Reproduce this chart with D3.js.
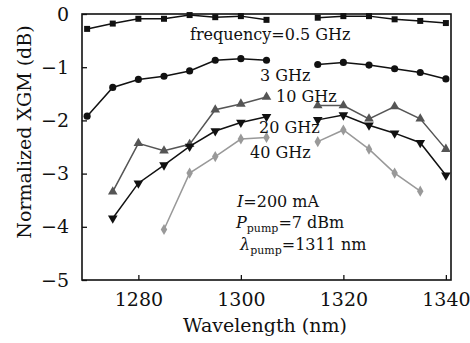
<!DOCTYPE html>
<html lang="en">
<head>
    <meta charset="UTF-8">
    <title>Normalized XGM</title>
    <script src="https://cdnjs.cloudflare.com/ajax/libs/d3/7.8.5/d3.min.js"></script>
    <style>
        body { margin: 0; background: #fff; }
        text { font-family: "DejaVu Serif", serif; }
    </style>
</head>
<body>
    <div id="chart"></div>
    <script>
        // data
        const wlLeft = [1270, 1275, 1280, 1285, 1290, 1295, 1300, 1305]
        const wlRight = [1315, 1320, 1325, 1330, 1335, 1340]

        const f05Left = [-0.28, -0.18, -0.09, -0.09, -0.02, -0.06, -0.04, -0.11]
        const f05Right = [-0.07, -0.04, -0.04, -0.10, -0.13, -0.17]
        const f3Left = [-1.92, -1.38, -1.23, -1.17, -1.07, -0.87, -0.84, -0.87]
        const f3Right = [-0.95, -0.91, -0.96, -1.03, -1.10, -1.22]
        // 10, 20 GHz start at 1275, 40 GHz at 1285
        const f10Left = [-3.34, -2.43, -2.57, -2.45, -1.80, -1.69, -1.56]
        const f10Right = [-1.72, -1.72, -1.97, -1.74, -1.97, -2.54]
        const f20Left = [-3.84, -3.18, -2.84, -2.49, -2.20, -2.04, -1.93]
        const f20Right = [-1.99, -1.90, -2.09, -2.24, -2.42, -3.03]
        const f40Left = [-4.05, -2.99, -2.68, -2.35, -2.32]
        const f40Right = [-2.40, -2.18, -2.54, -2.99, -3.33]

        const xTicks = [1280, 1300, 1320, 1340]
        const yTicks = [0, -1, -2, -3, -4, -5]

        const width = 470, height = 343
        const margin = { top: 14, right: 19, bottom: 63, left: 82 }

        const svg = d3.select('#chart').append('svg')
            .attr('width', width)
            .attr('height', height)

        const x = d3.scaleLinear().domain([1269, 1341]).range([margin.left, width - margin.right])
        const y = d3.scaleLinear().domain([-5, 0]).range([height - margin.bottom, margin.top])

        // frame
        svg.append('rect')
            .attr('x', x.range()[0]).attr('y', y.range()[1])
            .attr('width', x.range()[1] - x.range()[0])
            .attr('height', y.range()[0] - y.range()[1])
            .attr('fill', 'none').attr('stroke', '#111').attr('stroke-width', 1.6)

        // x axis (ticks inward)
        const xAxis = svg.append('g').attr('transform', `translate(0,${y(-5)})`)
        xAxis.call(d3.axisBottom(x).tickValues(d3.range(1270, 1341, 5)).tickSize(-3).tickFormat(''))
        xAxis.call(d3.axisBottom(x).tickValues(xTicks).tickSize(-5).tickPadding(13).tickFormat(d3.format('d')))
        xAxis.selectAll('.domain').remove()
        xAxis.selectAll('line').attr('stroke', '#111').attr('stroke-width', 1.3)
        xAxis.selectAll('text').attr('font-size', 19).attr('fill', '#111')

        // y axis
        const yAxis = svg.append('g').attr('transform', `translate(${x(1269)},0)`)
        yAxis.call(d3.axisLeft(y).tickValues(d3.range(-5, 0.01, 0.25)).tickSize(-3).tickFormat(''))
        yAxis.call(d3.axisLeft(y).tickValues(yTicks).tickSize(-5).tickPadding(13)
            .tickFormat(d => d === 0 ? '0' : '\u2212' + Math.abs(d)))
        yAxis.selectAll('.domain').remove()
        yAxis.selectAll('line').attr('stroke', '#111').attr('stroke-width', 1.3)
        yAxis.selectAll('text').attr('font-size', 19).attr('fill', '#111')

        // axis titles
        svg.append('text')
            .attr('x', 265).attr('y', 332)
            .attr('text-anchor', 'middle').attr('font-size', 19).attr('fill', '#111')
            .text('Wavelength (nm)')
        svg.append('text')
            .attr('transform', 'translate(31,132) rotate(-90)')
            .attr('text-anchor', 'middle').attr('font-size', 19).attr('fill', '#111')
            .text('Normalized XGM (dB)')

        // series
        function pts(xs, ys) {
            return ys.map((v, i) => [xs[i], v])
        }
        const series = [
            { name: '0.5', color: '#111', shape: d3.symbolSquare, size: 36,
              parts: [pts(wlLeft, f05Left), pts(wlRight, f05Right)] },
            { name: '3', color: '#111', shape: d3.symbolCircle, size: 40,
              parts: [pts(wlLeft, f3Left), pts(wlRight, f3Right)] },
            { name: '10', color: '#555', shape: d3.symbolTriangle, size: 40,
              parts: [pts(wlLeft.slice(1), f10Left), pts(wlRight, f10Right)] },
            { name: '20', color: '#111', shape: d3.symbolTriangle, size: 40, flip: true,
              parts: [pts(wlLeft.slice(1), f20Left), pts(wlRight, f20Right)] },
            { name: '40', color: '#999', shape: d3.symbolDiamond, size: 36,
              parts: [pts(wlLeft.slice(3), f40Left), pts(wlRight.slice(0, 5), f40Right)] }
        ]

        const line = d3.line().x(d => x(d[0])).y(d => y(d[1]))

        series.forEach(s => {
            const g = svg.append('g')
            s.parts.forEach(p => {
                g.append('path')
                    .attr('d', line(p))
                    .attr('fill', 'none')
                    .attr('stroke', s.color)
                    .attr('stroke-width', 1.5)
                g.selectAll(null)
                    .data(p)
                    .enter()
                    .append('path')
                    .attr('d', d3.symbol().type(s.shape).size(s.size))
                    .attr('transform', d => `translate(${x(d[0])},${y(d[1])})${s.flip ? ' rotate(180)' : ''}`)
                    .attr('fill', s.color)
            })
        })

        // labels
        const labels = [
            { t: 'frequency=0.5 GHz', x: 190, y: 40 },
            { t: '3 GHz', x: 260, y: 81 },
            { t: '10 GHz', x: 276, y: 102 },
            { t: '20 GHz', x: 259, y: 133 },
            { t: '40 GHz', x: 250, y: 158 }
        ]
        svg.selectAll('.lbl')
            .data(labels)
            .enter()
            .append('text')
            .attr('class', 'lbl')
            .attr('x', d => d.x).attr('y', d => d.y)
            .attr('font-size', 16).attr('fill', '#111')
            .text(d => d.t)

        // conditions
        const t1 = svg.append('text').attr('x', 237).attr('y', 207).attr('font-size', 16).attr('fill', '#111')
        t1.append('tspan').attr('font-style', 'italic').text('I')
        t1.append('tspan').text('=200 mA')

        const t2 = svg.append('text').attr('x', 236).attr('y', 228).attr('font-size', 16).attr('fill', '#111')
        t2.append('tspan').attr('font-style', 'italic').text('P')
        t2.append('tspan').attr('font-size', 11).attr('dy', 4).text('pump')
        t2.append('tspan').attr('dy', -4).text('=7 dBm')

        const t3 = svg.append('text').attr('x', 240).attr('y', 250).attr('font-size', 16).attr('fill', '#111')
        t3.append('tspan').attr('font-style', 'italic').text('\u03bb')
        t3.append('tspan').attr('font-size', 11).attr('dy', 4).text('pump')
        t3.append('tspan').attr('dy', -4).text('=1311 nm')
    </script>
</body>
</html>
